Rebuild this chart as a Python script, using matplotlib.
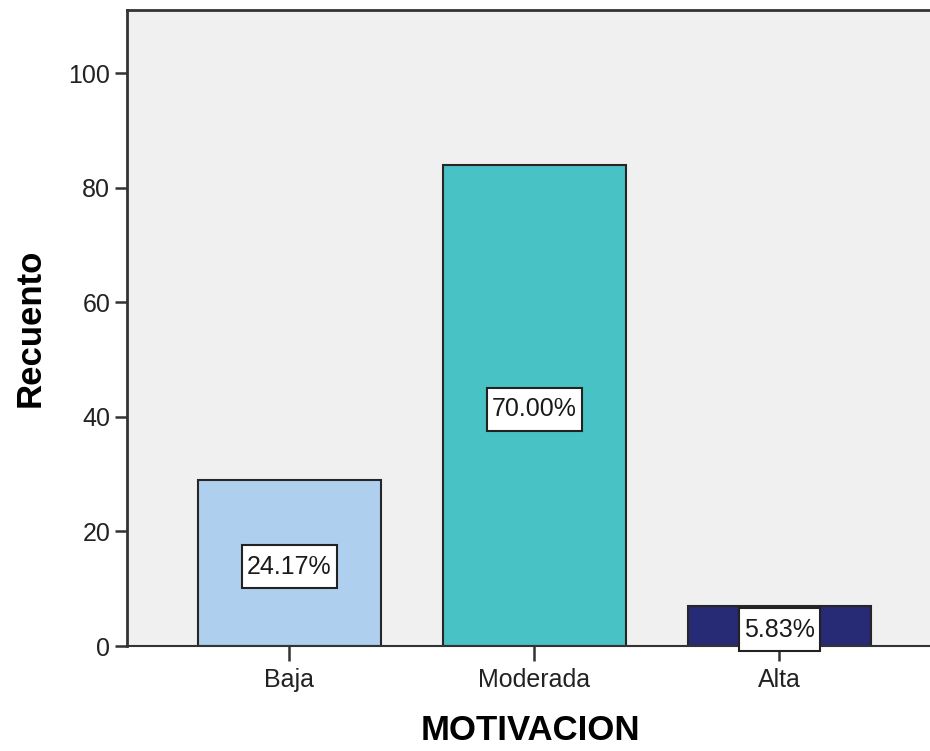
import matplotlib
matplotlib.use("Agg")
import matplotlib.pyplot as plt
import matplotlib.path as mpath
import matplotlib.transforms as mtransforms

plt.rcParams['font.family'] = ['Liberation Sans', 'DejaVu Sans']

categorias = ["Baja", "Moderada", "Alta"]
recuento = [29, 84, 7]
porcentajes = ["24.17%", "70.00%", "5.83%"]
colores = ["#aecfee", "#48c2c5", "#272a75"]
yticks = [0, 20, 40, 60, 80, 100]


def caja(x0, y0, width, height, mutation_size):
    # rectangle with more room above and below the text than at the sides
    px = 0.2 * mutation_size
    py = 0.38 * mutation_size
    x0, y0 = x0 - px, y0 - py
    x1, y1 = x0 + width + 2 * px, y0 + height + 2 * py
    return mpath.Path([(x0, y0), (x1, y0), (x1, y1), (x0, y1), (x0, y0)],
                      [1, 2, 2, 2, 79])


fig = plt.figure(figsize=(9.3, 7.51), dpi=100)
# the plot frame runs past the right edge of the picture, as in the original
ax = fig.add_axes([127 / 930, 105 / 751, 806 / 930, 636 / 751])
ax.set_facecolor("#f0f0f0")

x = range(len(categorias))
ax.bar(x, recuento, width=0.747, color=colores, edgecolor="#262626", linewidth=1.5, zorder=2)

bajar = mtransforms.offset_copy(ax.transData, fig=fig, x=0, y=-4, units="dots")
for i, (v, p) in enumerate(zip(recuento, porcentajes)):
    t = ax.text(i, v / 2, p, ha="center", va="center", fontsize=18, color="#1a1a1a", zorder=3,
                transform=bajar,
                bbox=dict(facecolor="white", edgecolor="#222222", linewidth=1.5))
    t.get_bbox_patch().set_boxstyle(caja)

ax.set_xlim(-0.663, 2.627)
ax.set_ylim(0, 111)
ax.set_xticks(list(x))
ax.set_xticklabels(categorias)
ax.set_yticks(yticks)

for s in ["left", "bottom", "top"]:
    ax.spines[s].set_color("#333333")
    ax.spines[s].set_linewidth(2)
ax.spines["right"].set_visible(False)
ax.spines["bottom"].set_linewidth(1.5)

ax.tick_params(axis="both", width=1.8, color="#333333", labelsize=18, labelcolor="#222222", pad=3)
ax.tick_params(axis="y", length=9)
ax.tick_params(axis="x", length=11, pad=5)

ax.set_ylabel("Recuento", fontsize=25, fontweight="bold", labelpad=16)
ax.set_xlabel("MOTIVACION", fontsize=25, fontweight="bold", labelpad=16)

fig.savefig("out.png", dpi=100)
